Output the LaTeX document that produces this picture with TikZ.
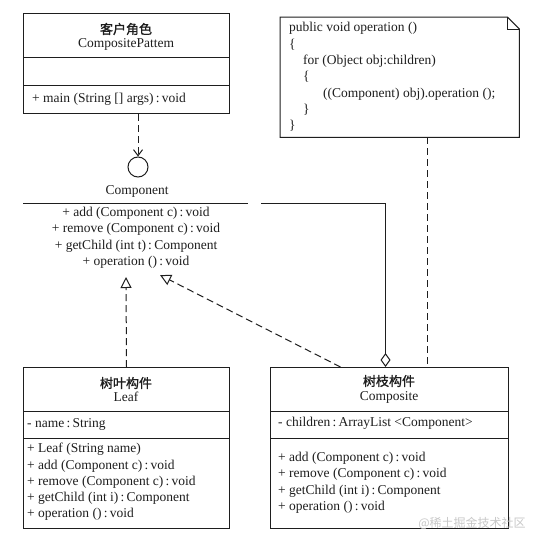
\documentclass[tikz,border=0pt]{standalone}
\usepackage{fontspec}
\setmainfont{Liberation Serif}
\newfontfamily\cjk{Noto Sans CJK SC}
\newfontfamily\cjkb{Noto Sans CJK SC}[FakeBold=1.3]
\usepackage{tikz}
\usetikzlibrary{calc,arrows.meta}
\definecolor{ink}{HTML}{1E1E1E}
\definecolor{mark}{HTML}{C8C8C8}
\newcommand{\cln}{\,:\,}
\tikzset{
  base/.style={draw=ink, line width=1pt},
  box/.style={draw=ink, line width=1pt, rectangle, inner sep=0pt, anchor=north west},
  dep/.style={draw=ink, line width=1pt, dash pattern=on 7pt off 4pt},
  lab/.style={text=ink, font=\fontsize{13.5}{16}\selectfont, inner sep=0pt, text height=9.5pt, text depth=3pt},
  labw/.style={lab, anchor=west},
  labc/.style={text=ink, font=\cjkb\fontsize{13}{16}\selectfont, inner sep=0pt},
  real/.style={dep, -{Triangle[open, length=11pt, width=11pt]}},
}

\begin{document}
\begin{tikzpicture}[x=1pt, y=-1pt]
  \useasboundingbox[fill=white] (0,0) rectangle (538,546);
  % client class
  \node[box, minimum width=206pt, minimum height=100pt] (client) at (23,13) {};
  \draw[base] (23,57) -- (229,57);
  \draw[base] (23,85) -- (229,85);
  \node[labc] (clientZh) at (126,29) {客户角色};
  \node[lab] (clientName) at (126,44) {CompositePattem};
  \node[labw] (clientMain) at (32,99) {+ main (String [] args)\cln void};
  % interface Component
  \node[circle, base, minimum size=20pt, inner sep=0pt] (iface) at (138,167) {};
  \draw[dep, -{Straight Barb[length=6pt, width=9pt]}] (client.south -| iface) -- (iface.north);
  \node[lab] (compName) at (137,191) {Component};
  \draw[base] (23,203) -- (248,203);
  \node[lab] (compAdd) at (136,213) {+ add (Component c)\cln void};
  \node[lab] (compRemove) at (136,229) {+ remove (Component c)\cln void};
  \node[lab] (compChild) at (136,246) {+ getChild (int t)\cln Component};
  \node[lab] (compOp) at (136,262) {+ operation ()\cln void};
  % note
  \node[anchor=north west, minimum width=239pt, minimum height=120pt, inner sep=0pt] (note) at (280,17) {};
  \draw[base] (note.north west) -- ($(note.north east)+(-12,0)$) -- ($(note.north east)+(0,12)$)
    -- (note.south east) -- (note.south west) -- cycle;
  \draw[base] ($(note.north east)+(-12,0)$) |- ($(note.north east)+(0,12)$);
  \node[labw] (code1) at (289,28) {public void operation ()};
  \node[labw] (code2) at (289,45) {\{};
  \node[labw] (code3) at (303,61) {for (Object obj:children)};
  \node[labw] (code4) at (303,77) {\{};
  \node[labw] (code5) at (323,94) {((Component) obj).operation ();};
  \node[labw] (code6) at (303,110) {\}};
  \node[labw] (code7) at (289,126) {\}};
  % leaf class
  \node[box, minimum width=206pt, minimum height=161pt] (leaf) at (23,367) {};
  \draw[base] (23,411) -- (229,411);
  \draw[base] (23,438) -- (229,438);
  \node[labc] (leafZh) at (126,383) {树叶构件};
  \node[lab] (leafName) at (126,398) {Leaf};
  \node[labw] (leafAttr) at (27,424) {- name\cln String};
  \node[labw] (leafNew) at (27,449) {+ Leaf (String name)};
  \node[labw] (leafAdd) at (27,466) {+ add (Component c)\cln void};
  \node[labw] (leafRemove) at (27,482) {+ remove (Component c)\cln void};
  \node[labw] (leafChild) at (27,498) {+ getChild (int i)\cln Component};
  \node[labw] (leafOp) at (27,514) {+ operation ()\cln void};
  % composite class
  \node[box, minimum width=238pt, minimum height=161pt] (composite) at (270,367) {};
  \draw[base] (270,411) -- (508,411);
  \draw[base] (270,438) -- (508,438);
  \node[labc] (compositeZh) at (389,381) {树枝构件};
  \node[lab] (compositeName) at (389,397) {Composite};
  \node[labw] (compositeAttr) at (278,423) {- children\cln ArrayList <Component>};
  \node[labw] (compositeAdd) at (278,458) {+ add (Component c)\cln void};
  \node[labw] (compositeRemove) at (278,474) {+ remove (Component c)\cln void};
  \node[labw] (compositeChild) at (278,491) {+ getChild (int i)\cln Component};
  \node[labw] (compositeOp) at (278,507) {+ operation ()\cln void};
  % connectors
  \coordinate (leafTip) at (126,277);
  \coordinate (compTip) at (160,275);
  \coordinate (aggEnd) at (261,203);
  \coordinate (noteLink) at (427,0);
  \draw[real] (leaf.north) -- (leafTip);
  \draw[real] ([xshift=-49pt]composite.north) -- (compTip);
  \draw[base, {Diamond[open, length=14pt, width=10pt]}-] ([xshift=-4pt]composite.north) |- (aggEnd);
  \draw[dep] (note.south -| noteLink) -- (composite.north -| noteLink);
  \node[text=mark, font=\cjk\fontsize{12}{14}\selectfont, inner sep=0pt] (mark) at (472,523) {@稀土掘金技术社区};
\end{tikzpicture}
\end{document}
